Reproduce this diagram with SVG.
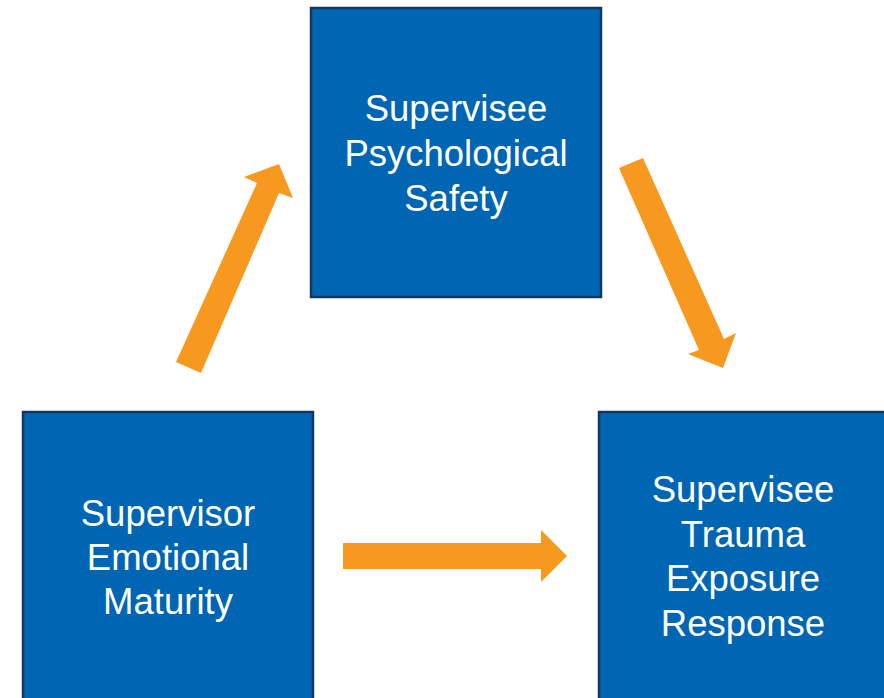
<svg xmlns="http://www.w3.org/2000/svg" width="884" height="698" viewBox="0 0 884 698">
<style>
.box{fill:#0066B3;stroke:#13385F;stroke-width:2.5}
.lbl{fill:#FFFFFF;font-family:"Liberation Sans",Arial,sans-serif;font-size:36.5px;text-anchor:middle}
.arr{fill:#F7981F}
</style>
<rect width="884" height="698" fill="#FFFFFF"/>
<g id="node-safety">
<rect class="box" x="311" y="8" width="290" height="289"/>
<text class="lbl" x="456" y="121">Supervisee</text>
<text class="lbl" x="456" y="166">Psychological</text>
<text class="lbl" x="456" y="211">Safety</text>
</g>
<g id="node-maturity">
<rect class="box" x="23" y="412" width="290" height="300"/>
<text class="lbl" x="168" y="526">Supervisor</text>
<text class="lbl" x="168" y="570">Emotional</text>
<text class="lbl" x="168" y="614">Maturity</text>
</g>
<g id="node-response">
<rect class="box" x="599" y="412" width="300" height="300"/>
<text class="lbl" x="743" y="502">Supervisee</text>
<text class="lbl" x="743" y="547">Trauma</text>
<text class="lbl" x="743" y="591">Exposure</text>
<text class="lbl" x="743" y="636">Response</text>
</g>
<g id="connectors">
<polygon class="arr" points="176,362 257,183 244,177 279,164 293,198 279,193 201,373"/>
<polygon class="arr" points="619,168 643,158 724,339 736,333 723,368 688,354 699,350"/>
<polygon class="arr" points="343,543 541,543 541,530 567,556 541,582 541,569 343,569"/>
</g>
</svg>
